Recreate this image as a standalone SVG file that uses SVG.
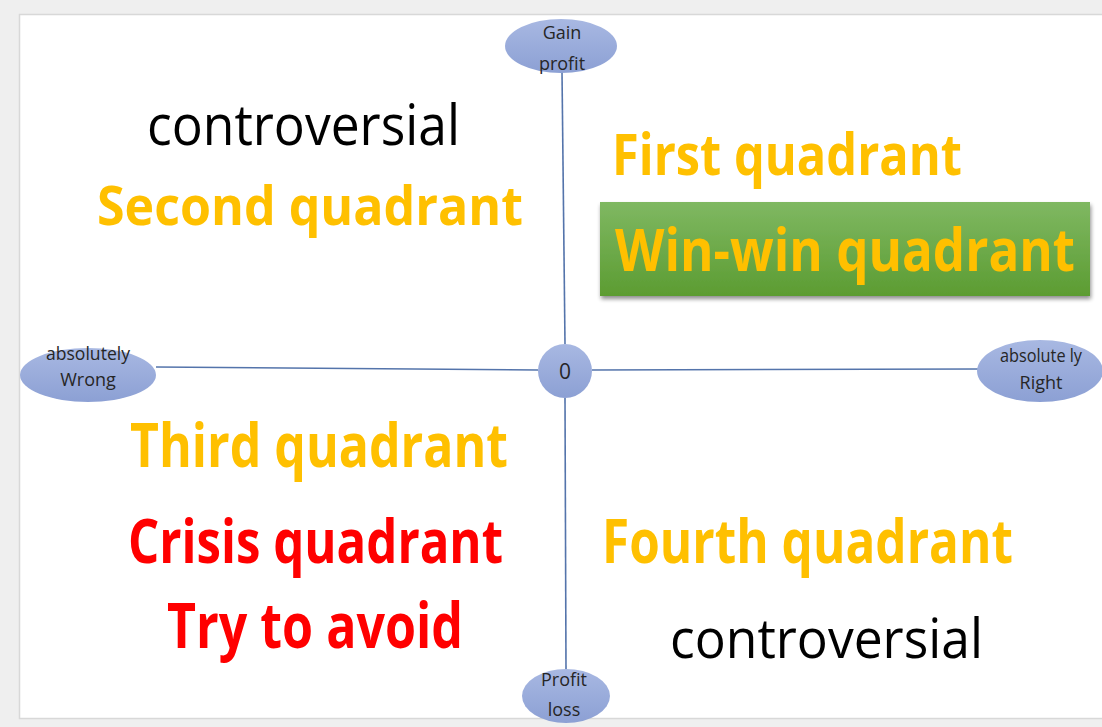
<svg xmlns="http://www.w3.org/2000/svg" width="1102" height="727" viewBox="0 0 1102 727">
<defs>
<linearGradient id="nodeFill" x1="0" y1="0" x2="0" y2="1">
<stop offset="0" stop-color="#a8b8e2"/>
<stop offset="1" stop-color="#8ca0d4"/>
</linearGradient>
<linearGradient id="greenFill" x1="0" y1="0" x2="0" y2="1">
<stop offset="0" stop-color="#7fb862"/>
<stop offset="1" stop-color="#5c9c32"/>
</linearGradient>
<filter id="shadow" x="-5%" y="-10%" width="110%" height="130%">
<feGaussianBlur in="SourceAlpha" stdDeviation="2"/>
<feOffset dx="1" dy="3" result="b"/>
<feComponentTransfer><feFuncA type="linear" slope="0.45"/></feComponentTransfer>
<feMerge><feMergeNode/><feMergeNode in="SourceGraphic"/></feMerge>
</filter>
</defs>
<style>
.node{fill:url(#nodeFill);}
.nt{font-family:"Open Sans","Noto Sans",sans-serif;font-size:18px;fill:#262626;text-anchor:middle;}
.conn{stroke:#5474ab;stroke-width:1.6;fill:none;}
.big{font-family:"Open Sans","Noto Sans",sans-serif;font-weight:bold;}
.gold{fill:#FFC000;}
.red{fill:#FF0000;}
.blk{font-family:"Open Sans","Noto Sans",sans-serif;fill:#000;}
</style>
<rect x="0" y="0" width="1102" height="727" fill="#efefef"/>
<rect x="19.5" y="14.5" width="1090" height="704" fill="#ffffff" stroke="#d8d8d8" stroke-width="1.5"/>

<g id="connectors">
<line class="conn" x1="562" y1="72" x2="565" y2="344"/>
<line class="conn" x1="565" y1="398" x2="566" y2="670"/>
<line class="conn" x1="156" y1="367" x2="538" y2="370"/>
<line class="conn" x1="592" y1="370" x2="978" y2="369"/>
</g>

<g id="node-gain">
<ellipse class="node" cx="561" cy="46" rx="56" ry="27"/>
<text class="nt" x="562" y="39">Gain</text>
<text class="nt" x="562" y="70">profit</text>
</g>
<g id="node-wrong">
<ellipse class="node" cx="88" cy="375" rx="68" ry="27"/>
<text class="nt" x="88" y="360" textLength="84" lengthAdjust="spacingAndGlyphs">absolutely</text>
<text class="nt" x="88" y="386">Wrong</text>
</g>
<g id="node-right">
<ellipse class="node" cx="1040" cy="371" rx="63" ry="31"/>
<text class="nt" x="1041" y="362" textLength="82" lengthAdjust="spacingAndGlyphs">absolute ly</text>
<text class="nt" x="1041" y="389">Right</text>
</g>
<g id="node-zero">
<circle class="node" cx="565" cy="371" r="27"/>
<text class="nt" x="565" y="379" style="font-size:21px">0</text>
</g>
<g id="node-loss">
<ellipse class="node" cx="566" cy="696" rx="44" ry="27"/>
<text class="nt" x="564" y="686">Profit</text>
<text class="nt" x="564" y="716">loss</text>
</g>

<g id="winwin">
<rect x="600" y="202" width="490" height="94" fill="url(#greenFill)" filter="url(#shadow)"/>
<text class="big gold" transform="translate(615,271) scale(1,1.15)" x="0" y="0" font-size="52" textLength="460" lengthAdjust="spacingAndGlyphs">Win-win quadrant</text>
</g>

<g id="labels">
<text class="blk" x="147" y="145" font-size="56" textLength="313" lengthAdjust="spacingAndGlyphs">controversial</text>
<text class="big gold" x="97" y="225" font-size="53" textLength="426" lengthAdjust="spacingAndGlyphs">Second quadrant</text>
<text class="big gold" x="612" y="175" font-size="58" textLength="350" lengthAdjust="spacingAndGlyphs">First quadrant</text>
<text class="big gold" x="130" y="467" font-size="60" textLength="378" lengthAdjust="spacingAndGlyphs">Third quadrant</text>
<text class="big red" x="128" y="563" font-size="60" textLength="375" lengthAdjust="spacingAndGlyphs">Crisis quadrant</text>
<text class="big red" x="167" y="648" font-size="62" textLength="296" lengthAdjust="spacingAndGlyphs">Try to avoid</text>
<text class="big gold" x="602" y="563" font-size="60" textLength="411" lengthAdjust="spacingAndGlyphs">Fourth quadrant</text>
<text class="blk" x="670" y="658" font-size="55" textLength="313" lengthAdjust="spacingAndGlyphs">controversial</text>
</g>
</svg>
